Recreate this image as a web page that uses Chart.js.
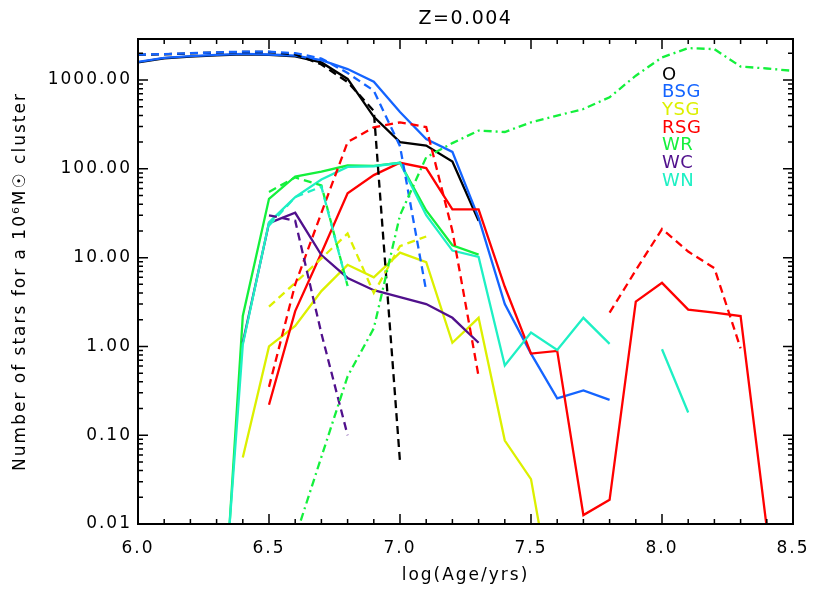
<!DOCTYPE html>
<html>
<head>
    <title>Z=0.004</title>
    <meta charset="utf-8" />
    <script src="https://cdn.jsdelivr.net/npm/chart.js"></script>
    <style>
        body { margin: 0; background: #fff; }
        #chart { display: block; }
    </style>
</head>
<body>
    <canvas id="chart" width="830" height="604"></canvas>

    <script>
        // log(Age/yrs) sampling
        var ages = [6.0, 6.1, 6.2, 6.3, 6.4, 6.5, 6.6, 6.7, 6.8, 6.9, 7.0, 7.1, 7.2,
                    7.3, 7.4, 7.5, 7.6, 7.7, 7.8, 7.9, 8.0, 8.1, 8.2, 8.3, 8.4, 8.5];

        // solid lines
        var oSolid   = [1580, 1760, 1840, 1900, 1950, 1920, 1850, 1580, 1030, 385, 200, 183, 121, 26,
                        null, null, null, null, null, null, null, null, null, null, null, null];
        var bsgSolid = [1600, 1780, 1860, 1920, 1970, 1940, 1880, 1680, 1330, 960, 436, 217, 155, 28,
                        3.0, 0.83, 0.26, 0.32, 0.25, null, null, null, null, null, null, null];
        var ysgSolid = [null, null, null, null, 0.056, 1.0, 1.7, 4.2, 8.3, 6.0, 11.4, 8.9, 1.1, 2.1,
                        0.087, 0.032, 0.0007, null, null, null, null, null, null, null, null, null];
        var rsgSolid = [null, null, null, null, null, 0.22, 2.5, 11.3, 53, 85, 117, 102, 35, 35,
                        4.7, 0.83, 0.89, 0.0126, 0.0187, 3.2, 5.2, 2.6, 2.4, 2.2, 0.009, null];
        var wrSolid  = [null, null, null, 0.00005, 2.2, 46, 82, 93, 109, 108, 117, 34, 13.8, 10.8,
                        null, null, null, null, null, null, null, null, null, null, null, null];
        var wcSolid  = [null, null, null, null, 1.1, 24.5, 32, 10.7, 5.9, 4.3, 3.6, 3.0, 2.1, 1.1,
                        null, null, null, null, null, null, null, null, null, null, null, null];
        var wnSolid  = [null, null, null, 0.0001, 1.05, 25, 48, 76, 105, 107, 117, 30, 12, 10.2,
                        0.61, 1.43, 0.91, 2.1, 1.07, null, 0.93, 0.18, null, null, null, null];

        // dashed lines
        var oDashed   = [1920, 1950, 2000, 2040, 2070, 2070, 1950, 1500, 950, 450, 0.05, null, null, null,
                         null, null, null, null, null, null, null, null, null, null, null, null];
        var bsgDashed = [1930, 1960, 2010, 2050, 2090, 2090, 2010, 1750, 1200, 760, 180, 4.2, null, null,
                         null, null, null, null, null, null, null, null, null, null, null, null];
        var ysgDashed = [null, null, null, null, null, 2.8, 5.2, 9.8, 18.7, 4.0, 13.5, 17.3, null, null,
                         null, null, null, null, null, null, null, null, null, null, null, null];
        var rsgDashed = [null, null, null, null, null, 0.35, 5, 32, 200, 293, 334, 296, 20, 0.46,
                         null, null, null, null, 2.4, 7.2, 21, 11.7, 7.6, 0.95, null, null];
        var wrDashed  = [null, null, null, null, null, 55, 80, 65, 4.8, null, null, null, null, null,
                         null, null, null, null, null, null, null, null, null, null, null, null];
        var wcDashed  = [null, null, null, null, null, 30, 26, 1.4, 0.1, null, null, null, null, null,
                         null, null, null, null, null, null, null, null, null, null, null, null];
        var wnDashed  = [null, null, null, null, null, 23, 48, 63, 4.8, null, null, null, null, null,
                         null, null, null, null, null, null, null, null, null, null, null, null];

        // dash-dot green line
        var wrDashDot = [null, null, null, null, null, null, 0.007, 0.057, 0.46, 1.6, 30, 135, 195, 270,
                         260, 334, 397, 472, 640, 1120, 1800, 2290, 2230, 1420, 1350, 1270];

        var xTicks = [6.0, 6.5, 7.0, 7.5, 8.0, 8.5];
        var yTicks = [0.01, 0.1, 1, 10, 100, 1000];

        var names  = ['O', 'BSG', 'YSG', 'RSG', 'WR', 'WC', 'WN'];
        var colors = ['#000000', '#1464ff', '#dcf000', '#ff0000', '#14f03c', '#50108c', '#1ef0c4'];

        var solids = [oSolid, bsgSolid, ysgSolid, rsgSolid, wrSolid, wcSolid, wnSolid];
        var dashes = [oDashed, bsgDashed, ysgDashed, rsgDashed, wrDashed, wcDashed, wnDashed];

        function toPoints(vals) {
            return ages.map(function (a, i) { return { x: a, y: vals[i] }; });
        }

        var datasets = [];
        solids.forEach(function (s, i) {
            datasets.push({ label: names[i], data: toPoints(s), borderColor: colors[i] });
        });
        dashes.forEach(function (s, i) {
            datasets.push({ label: names[i] + ' (dashed)', data: toPoints(s), borderColor: colors[i], borderDash: [8, 5] });
        });
        datasets.push({ label: 'WR (dash-dot)', data: toPoints(wrDashDot), borderColor: colors[4], borderDash: [8, 4, 2, 4] });
        // later datasets drawn on top
        datasets.forEach(function (d, i) { d.order = -i; });

        var fontFam = '"DejaVu Sans", sans-serif';
        var spacing = '2px';

        // wider IDL-like lettering for every text drawn on the canvas
        var letters = {
            id: 'letters',
            beforeUpdate: function (chart) { chart.ctx.letterSpacing = spacing; },
            beforeDraw: function (chart) { chart.ctx.letterSpacing = spacing; }
        };

        // frame with inward IDL-style ticks, title and coloured text legend
        var decorations = {
            id: 'decorations',
            afterDatasetsDraw: function (chart) {
                var c = chart.ctx, a = chart.chartArea;
                var sx = chart.scales.x, sy = chart.scales.y;
                c.save();
                c.strokeStyle = '#000';
                c.lineWidth = 1.5;
                c.beginPath();
                for (var i = 0; i <= 25; i++) {
                    var px = sx.getPixelForValue(6 + i / 10);
                    var len = (i % 5 === 0) ? 10 : 5;
                    c.moveTo(px, a.bottom); c.lineTo(px, a.bottom - len);
                    c.moveTo(px, a.top); c.lineTo(px, a.top + len);
                }
                for (var e = -2; e <= 3; e++) {
                    for (var m = 1; m <= 9; m++) {
                        var v = m * Math.pow(10, e);
                        if (v > sy.max) break;
                        var py = sy.getPixelForValue(v);
                        var l = (m === 1) ? 10 : 5;
                        c.moveTo(a.left, py); c.lineTo(a.left + l, py);
                        c.moveTo(a.right, py); c.lineTo(a.right - l, py);
                    }
                }
                c.stroke();
                c.lineWidth = 2;
                c.strokeRect(a.left, a.top, a.right - a.left, a.bottom - a.top);

                c.fillStyle = '#000';
                c.font = '19px ' + fontFam;
                c.letterSpacing = '1.5px';
                c.textAlign = 'center';
                c.textBaseline = 'middle';
                c.fillText('Z=0.004', (a.left + a.right) / 2, 19);

                c.font = '18px ' + fontFam;
                c.letterSpacing = '0.5px';
                c.textAlign = 'left';
                names.forEach(function (n, k) {
                    c.fillStyle = colors[k];
                    c.fillText(n, 662, 75 + k * 17.7);
                });
                c.restore();
            }
        };

        var ctx = document.getElementById('chart').getContext('2d');
        new Chart(ctx, {
            type: 'line',
            data: { datasets: datasets },
            options: {
                responsive: false,
                animation: false,
                spanGaps: false,
                layout: { padding: { top: 39, right: 37, left: 0, bottom: 0 } },
                elements: {
                    point: { radius: 0 },
                    line: { borderWidth: 2.3, tension: 0, fill: false }
                },
                plugins: {
                    legend: { display: false },
                    tooltip: { enabled: false },
                    title: { display: false }
                },
                scales: {
                    x: {
                        type: 'linear',
                        min: 6,
                        max: 8.5,
                        grid: { display: false, drawTicks: false },
                        border: { display: false },
                        afterBuildTicks: function (s) { s.ticks = xTicks.map(function (v) { return { value: v }; }); },
                        afterFit: function (s) { s.height = 80; },
                        ticks: {
                            padding: 14,
                            color: '#000',
                            maxRotation: 0,
                            autoSkip: false,
                            font: { family: fontFam, size: 17 },
                            callback: function (v) { return Number(v).toFixed(1); }
                        },
                        title: {
                            display: true,
                            text: 'log(Age/yrs)',
                            color: '#000',
                            font: { family: fontFam, size: 17 },
                            padding: { top: 0, bottom: 18 }
                        }
                    },
                    y: {
                        type: 'logarithmic',
                        min: 0.01,
                        max: 2900,
                        grid: { display: false, drawTicks: false },
                        border: { display: false },
                        afterBuildTicks: function (s) { s.ticks = yTicks.map(function (v) { return { value: v }; }); },
                        afterFit: function (s) { s.width = 138; },
                        ticks: {
                            padding: 6,
                            color: '#000',
                            autoSkip: false,
                            font: { family: fontFam, size: 17 },
                            callback: function (v) { return Number(v).toFixed(2); }
                        },
                        title: {
                            display: true,
                            text: 'Number of stars for a 10\u2076M\u2609 cluster',
                            color: '#000',
                            font: { family: fontFam, size: 17 },
                            padding: { top: 10, bottom: 0 }
                        }
                    }
                }
            },
            plugins: [letters, decorations]
        });
    </script>
</body>
</html>
